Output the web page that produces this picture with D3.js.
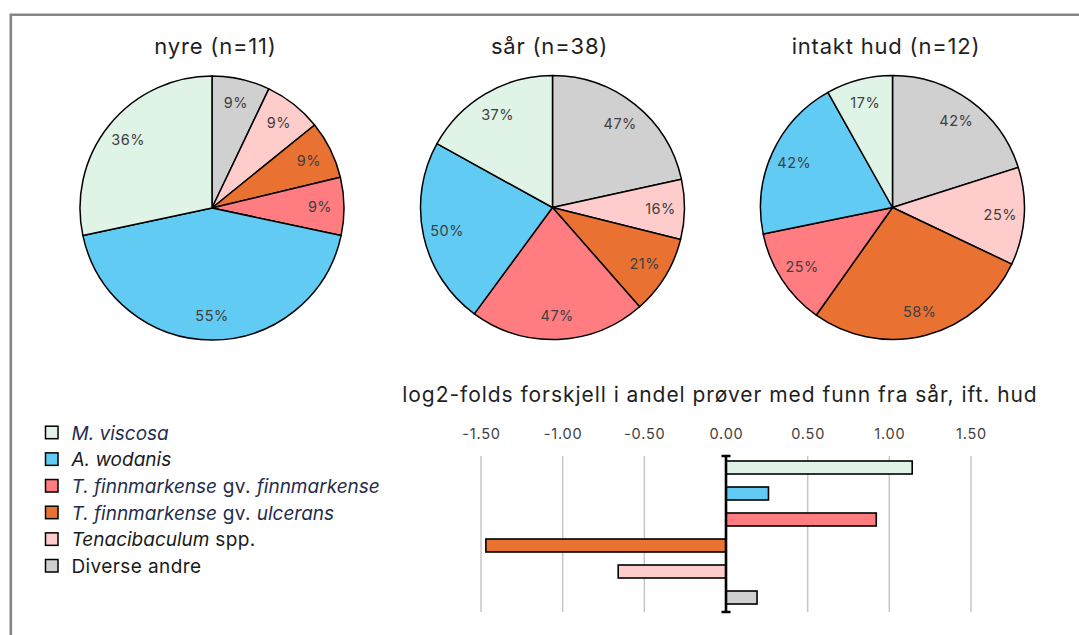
<!DOCTYPE html>
<html>
<head>
<meta charset="utf-8">
<script src="https://cdn.jsdelivr.net/npm/d3@7"></script>
<style>
  html, body { margin: 0; padding: 0; background: #ffffff; }
  svg { display: block; font-family: Inter, "Open Sans", "Liberation Sans", sans-serif; }
</style>
</head>
<body>
<svg id="chart" width="1079" height="635"></svg>
<script>
// Species groups, in legend order
const categories = [
  "M. viscosa",
  "A. wodanis",
  "T. finnmarkense gv. finnmarkense",
  "T. finnmarkense gv. ulcerans",
  "Tenacibaculum spp.",
  "Diverse andre"
];
const colors = ["#dff3e7", "#61cbf3", "#ff7c80", "#e97132", "#ffcccc", "#d0d0d0"];

// Legend label parts: [text, italic]
const legendParts = [
  [["M. viscosa", true]],
  [["A. wodanis", true]],
  [["T. finnmarkense", true], [" gv. ", false], ["finnmarkense", true]],
  [["T. finnmarkense", true], [" gv. ", false], ["ulcerans", true]],
  [["Tenacibaculum", true], [" spp.", false]],
  [["Diverse andre", false]]
];
const legendInk = ["#1f2d4e", "#1a1a1a", "#1f2d4e", "#1f2d4e", "#1a1a1a", "#1a1a1a"];

// Share of samples (%) with findings, per sample type
const pieTitles = ["nyre (n=11)", "sår (n=38)", "intakt hud (n=12)"];
const nyreValues = [36, 55, 9, 9, 9, 9];
const saarValues = [37, 50, 47, 21, 16, 47];
const hudValues  = [17, 42, 25, 58, 25, 42];

// log2 fold difference, wound vs intact skin
const foldValues = [1.14, 0.26, 0.92, -1.47, -0.66, 0.19];
const foldTitle = "log2-folds forskjell i andel prøver med funn fra sår, ift. hud";
const tickValues = [-1.5, -1.0, -0.5, 0, 0.5, 1.0, 1.5];
const tickLabels = ["-1.50", "-1.00", "-0.50", "0.00", "0.50", "1.00", "1.50"];

const svg = d3.select("#chart");

// outer frame (continues past the right and bottom edges)
svg.append("path")
  .attr("d", "M10.8,700V14.7H1100")
  .attr("fill", "none")
  .attr("stroke", "#858585")
  .attr("stroke-width", 2.6);

// ---------- pies ----------
const pieCenters = [[212, 208], [552.5, 207.5], [892.5, 207.5]];
const titleX = [215.5, 549.5, 886];
const radius = 132;
const labelRadius = 108;
const pieSets = [nyreValues, saarValues, hudValues];

// slices run clockwise from 12 o'clock, last category first
const order = d3.range(categories.length).reverse();
const arc = d3.arc().innerRadius(0).outerRadius(radius);
const labelArc = d3.arc().innerRadius(labelRadius).outerRadius(labelRadius);

pieSets.forEach((vals, k) => {
  const [cx, cy] = pieCenters[k];
  const g = svg.append("g").attr("transform", `translate(${cx},${cy})`);
  const arcs = d3.pie().sort(null).value(i => vals[i])(order);

  g.selectAll("path.slice")
    .data(arcs)
    .join("path")
    .attr("class", "slice")
    .attr("d", arc)
    .attr("fill", d => colors[d.data])
    .attr("stroke", "#000")
    .attr("stroke-width", 1.5)
    .attr("stroke-linejoin", "round");

  g.selectAll("text.pct")
    .data(arcs)
    .join("text")
    .attr("class", "pct")
    .attr("transform", d => `translate(${labelArc.centroid(d)})`)
    .attr("text-anchor", "middle")
    .attr("dy", "0.36em")
    .attr("font-size", 14.5)
    .attr("letter-spacing", 0.5)
    .attr("fill", "#404040")
    .text(d => vals[d.data] + "%");

  svg.append("text")
    .attr("x", titleX[k])
    .attr("y", 54)
    .attr("text-anchor", "middle")
    .attr("font-size", 22)
    .attr("letter-spacing", 0.8)
    .attr("fill", "#1f1f1f")
    .text(pieTitles[k]);
});

// ---------- legend ----------
const legend = svg.append("g");
const rowY = d3.scalePoint().domain(categories).range([432.7, 566]);
categories.forEach((c, i) => {
  const y = rowY(c);
  legend.append("rect")
    .attr("x", 45.5).attr("y", y - 6.5)
    .attr("width", 12.5).attr("height", 12.5)
    .attr("fill", colors[i])
    .attr("stroke", "#000")
    .attr("stroke-width", 1.5);
  const t = legend.append("text")
    .attr("x", 71.5).attr("y", y + 7)
    .attr("font-size", 19)
    .attr("fill", legendInk[i]);
  legendParts[i].forEach(([s, it]) => {
    t.append("tspan")
      .attr("font-style", it ? "italic" : "normal")
      .attr("letter-spacing", it ? 0 : 0.4)
      .text(s);
  });
});

// ---------- fold-change bars ----------
const x = d3.scaleLinear().domain([-1.5, 1.5]).range([481, 971]);
const gridTop = 456, gridBottom = 612;
const y = d3.scaleBand().domain(categories).range([454.5, 610.5])
  .paddingInner(0.5).paddingOuter(0.25);

svg.append("text")
  .attr("x", 720)
  .attr("y", 402)
  .attr("text-anchor", "middle")
  .attr("font-size", 21)
  .attr("letter-spacing", 0.95)
  .attr("fill", "#1f1f1f")
  .text(foldTitle);

const axis = d3.axisTop(x)
  .tickValues(tickValues)
  .tickFormat((d, i) => tickLabels[i])
  .tickSize(0)
  .tickPadding(0);
const axG = svg.append("g").attr("transform", "translate(0,438.5)").call(axis);
axG.select(".domain").remove();
axG.attr("font-family", null).attr("font-size", null);
axG.selectAll("text")
  .attr("font-size", 14.5)
  .attr("letter-spacing", 0.8)
  .attr("fill", "#404040");

svg.append("g")
  .selectAll("line")
  .data(tickValues)
  .join("line")
  .attr("x1", d => x(d)).attr("x2", d => x(d))
  .attr("y1", gridTop).attr("y2", gridBottom)
  .attr("stroke", "#c6c6c6")
  .attr("stroke-width", 1.5);

svg.append("g")
  .selectAll("rect")
  .data(categories)
  .join("rect")
  .attr("x", (c, i) => Math.min(x(0), x(foldValues[i])))
  .attr("y", c => y(c))
  .attr("width", (c, i) => Math.abs(x(foldValues[i]) - x(0)))
  .attr("height", y.bandwidth())
  .attr("fill", (c, i) => colors[i])
  .attr("stroke", "#000")
  .attr("stroke-width", 1.6);

// zero axis with end caps
const x0 = x(0);
svg.append("path")
  .attr("d", `M${x0 - 4.5},${gridTop}H${x0 + 4.5}M${x0},${gridTop}V${gridBottom}M${x0 - 4.5},${gridBottom}H${x0 + 4.5}`)
  .attr("fill", "none")
  .attr("stroke", "#000")
  .attr("stroke-width", 2.6);
</script>
</body>
</html>
